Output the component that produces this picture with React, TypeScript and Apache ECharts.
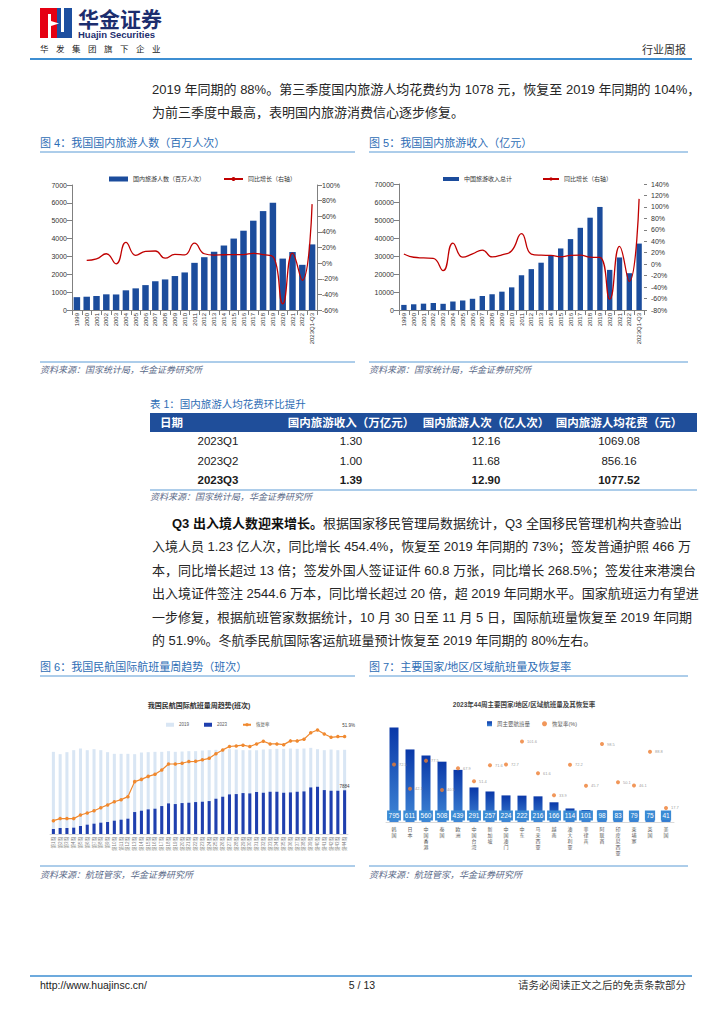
import React, { useEffect, useRef } from 'react';
import * as echarts from 'echarts';

const FONT = "'Liberation Sans', 'Noto Sans CJK SC', 'Noto Sans', sans-serif";

// ---------- Figure 4 / 5 data ----------
const tourismYears = ['1999', '2000', '2001', '2002', '2003', '2004', '2005', '2006', '2007', '2008', '2009', '2010', '2011', '2012', '2013', '2014', '2015', '2016', '2017', '2018', '2019', '2020', '2021', '2022', '2023Q1-Q3'];
const tourismTrips = [719, 744, 784, 878, 870, 1102, 1212, 1394, 1610, 1712, 1902, 2103, 2641, 2957, 3262, 3611, 4000, 4440, 5001, 5539, 6006, 2879, 3246, 2530, 3674];
const tripsGrowth: (number | string)[] = ['-', 3.5, 5.4, 12.0, -0.9, 26.6, 10.0, 15.0, 15.5, 6.3, 11.1, 10.6, 25.6, 12.0, 10.3, 10.7, 10.8, 11.0, 12.6, 10.8, 8.4, -52.1, 12.8, -22.1, 75.5];
const tourismRevenue = [2832, 3176, 3522, 3878, 3442, 4711, 5286, 6230, 7771, 8749, 10184, 12580, 19305, 22706, 26276, 30312, 34195, 39390, 45661, 51278, 57251, 22286, 29191, 20444, 36900];
const revenueGrowth = [17.8, 12.1, 10.9, 10.1, -11.2, 36.9, 12.2, 17.9, 24.7, 12.6, 16.4, 23.5, 53.5, 17.6, 15.7, 15.4, 12.8, 15.2, 15.9, 12.3, 11.7, -61.1, 31.0, -30.0, 114.0];

// ---------- Figure 6 data ----------
const weekLabels = ['第1周', '第2周', '第3周', '第4周', '第5周', '第6周', '第7周', '第8周', '第9周', '第10周', '第11周', '第12周', '第13周', '第14周', '第15周', '第16周', '第17周', '第18周', '第19周', '第20周', '第21周', '第22周', '第23周', '第24周', '第25周', '第26周', '第27周', '第28周', '第29周', '第30周', '第31周', '第32周', '第33周', '第34周', '第35周', '第36周', '第37周', '第38周', '第39周', '第40周', '第41周', '第42周', '第43周', '第44周'];
const flights2019 = [14820, 14400, 14760, 15120, 15420, 15120, 15300, 15120, 14760, 14460, 14460, 14460, 14400, 14700, 14760, 14820, 14820, 14940, 14820, 14880, 14940, 14940, 15060, 15120, 15180, 15240, 15300, 15240, 15120, 15120, 15120, 15240, 15300, 15360, 15360, 15420, 15360, 15420, 15540, 15300, 15120, 15240, 15120, 15190];
const flights2023 = [900, 1080, 1080, 1140, 1440, 1680, 1860, 2040, 2160, 2400, 2580, 2760, 3960, 4200, 4440, 4560, 5040, 5520, 5400, 5580, 5640, 5760, 5820, 5940, 6360, 6720, 7140, 7200, 7380, 7320, 7560, 7440, 7620, 7620, 7440, 7500, 7620, 7680, 8400, 8520, 7920, 7800, 7800, 7884];
const recoveryRate = [7.1, 8.2, 8.2, 8.2, 10.1, 11.2, 12.4, 14.0, 15.5, 17.2, 18.3, 19.9, 27.9, 29.1, 30.7, 31.8, 34.1, 37.3, 37.3, 37.7, 38.6, 38.7, 39.5, 40.3, 42.8, 44.8, 46.6, 46.9, 47.3, 46.6, 48.0, 49.4, 48.0, 48.0, 47.6, 49.6, 49.6, 50.5, 53.9, 55.4, 53.3, 51.5, 51.9, 51.9];

// ---------- Figure 7 data ----------
const regionNames = ['韩国', '日本', '中国香港', '泰国', '欧洲', '中国台湾', '新加坡', '中国澳门', '中东', '马来西亚', '越南', '澳大利亚', '菲律宾', '阿联酋', '印度尼西亚', '柬埔寨', '英国', '美国'];
const regionFlights = [795, 611, 560, 508, 439, 291, 257, 224, 222, 216, 166, 114, 101, 98, 83, 79, 75, 41];
const regionRecovery = [72.5, 42.1, 77.5, 40.5, 67.9, 51.4, 71.6, 72.7, 101.6, 61.6, 33.9, 72.2, 45.7, 98.5, 50.1, 46.1, 88.8, 17.7];

// ---------- Table 1 ----------
const tableHeader = ['日期', '国内旅游收入（万亿元）', '国内旅游人次（亿人次）', '国内旅游人均花费（元）'];
const tableRows = [
  ['2023Q1', '1.30', '12.16', '1069.08'],
  ['2023Q2', '1.00', '11.68', '856.16'],
  ['2023Q3', '1.39', '12.90', '1077.52'],
];

// ---------- Body text ----------
const para1 = [
  '2019 年同期的 88%。第三季度国内旅游人均花费约为 1078 元，恢复至 2019 年同期的 104%，',
  '为前三季度中最高，表明国内旅游消费信心逐步修复。',
];
const para2 = [
  '{b|Q3 出入境人数迎来增长。}根据国家移民管理局数据统计，Q3 全国移民管理机构共查验出',
  '入境人员 1.23 亿人次，同比增长 454.4%，恢复至 2019 年同期的 73%；签发普通护照 466 万',
  '本，同比增长超过 13 倍；签发外国人签证证件 60.8 万张，同比增长 268.5%；签发往来港澳台',
  '出入境证件签注 2544.6 万本，同比增长超过 20 倍，超 2019 年同期水平。国家航班运力有望进',
  '一步修复，根据航班管家数据统计，10 月 30 日至 11 月 5 日，国际航班量恢复至 2019 年同期',
  '的 51.9%。冬航季民航国际客运航班量预计恢复至 2019 年同期的 80%左右。',
];

const BLUE_TITLE = '#2d6db5';
const RULE = '#5b9bd5';
const SRC = '#5a6a88';
const BODY = '#262626';

type TOpts = { size?: number; color?: string; weight?: string; fstyle?: string; align?: string; rich?: any };
function txt(x: number, y: number, text: string, o: TOpts = {}) {
  return {
    type: 'text',
    silent: true,
    style: {
      x, y, text,
      fontSize: o.size ?? 13,
      fontFamily: FONT,
      fill: o.color ?? BODY,
      fontWeight: o.weight ?? 'normal',
      fontStyle: o.fstyle ?? 'normal',
      align: o.align ?? 'left',
      textAlign: o.align ?? 'left',
      verticalAlign: 'middle',
      textVerticalAlign: 'middle',
      rich: o.rich,
    },
  };
}
function hline(x1: number, x2: number, y: number, color: string, w: number) {
  return { type: 'line', silent: true, shape: { x1, y1: y, x2, y2: y }, style: { stroke: color, lineWidth: w } };
}
function rect(x: number, y: number, width: number, height: number, fill: string) {
  return { type: 'rect', silent: true, shape: { x, y, width, height }, style: { fill } };
}

function buildGraphics() {
  const g: any[] = [];
  // logo
  g.push(rect(40, 8, 17, 30, '#e50012'));
  g.push(rect(57, 8, 15, 30, '#1d4fa0'));
  g.push(rect(48, 14, 3, 24, '#ffffff'));
  g.push(rect(61, 8, 3, 24, '#ffffff'));
  g.push({ type: 'polygon', silent: true, shape: { points: [[51, 21], [59, 23.5], [51, 26]] }, style: { fill: '#ffffff' } });
  g.push(txt(78, 19, '华金证券', { size: 21, weight: 'bold', color: '#1c2d6e' }));
  g.push(txt(78, 34, 'Huajin Securities', { size: 9.5, weight: 'bold', color: '#1c2d6e' }));
  '华发集团旗下企业'.split('').forEach((c, i) => g.push(txt(40 + i * 16, 49, c, { size: 8.5, color: '#222' })));
  g.push(txt(686, 50, '行业周报', { size: 11, color: '#333', align: 'right' }));
  g.push(hline(30, 692, 59, '#3d8ed2', 2));

  // paragraph 1
  para1.forEach((l, i) => g.push(txt(152, 89 + i * 23, l)));

  // figure titles row 1
  g.push(txt(40, 143, '图 4：我国国内旅游人数（百万人次）', { size: 11, color: BLUE_TITLE }));
  g.push(txt(369, 143, '图 5：我国国内旅游收入（亿元）', { size: 11, color: BLUE_TITLE }));
  g.push(hline(40, 355, 152, RULE, 1));
  g.push(hline(369, 688, 152, RULE, 1));
  g.push(hline(40, 355, 362, RULE, 1));
  g.push(hline(369, 688, 362, RULE, 1));
  g.push(txt(40, 370, '资料来源：国家统计局，华金证券研究所', { size: 9, color: SRC, fstyle: 'italic' }));
  g.push(txt(369, 370, '资料来源：国家统计局，华金证券研究所', { size: 9, color: SRC, fstyle: 'italic' }));

  // table
  g.push(txt(150, 404, '表 1：国内旅游人均花费环比提升', { size: 10.5, color: BLUE_TITLE }));
  g.push(rect(150, 413, 547, 19, '#1f4e9a'));
  const colX = [218, 351, 486, 619];
  g.push(txt(160, 422.5, tableHeader[0], { size: 11.5, weight: 'bold', color: '#fff' }));
  for (let c = 1; c < 4; c++) g.push(txt(colX[c], 422.5, tableHeader[c], { size: 11.5, weight: 'bold', color: '#fff', align: 'center' }));
  tableRows.forEach((row, r) => {
    row.forEach((cell, c) => {
      g.push(txt(colX[c], 441 + r * 19.5, cell, { size: 11.5, align: 'center', weight: r === 2 ? 'bold' : 'normal', color: '#1a1a1a' }));
    });
  });
  g.push(hline(150, 697, 490, RULE, 1));
  g.push(txt(150, 497, '资料来源：国家统计局，华金证券研究所', { size: 9, color: SRC, fstyle: 'italic' }));

  // paragraph 2
  para2.forEach((l, i) =>
    g.push(txt(i === 0 ? 172 : 152, 523 + i * 23.5, l, {
      rich: { b: { fontWeight: 'bold', fontSize: 13, fontFamily: FONT, fill: '#111' } },
    }))
  );

  // figure titles row 2
  g.push(txt(40, 667, '图 6：我国民航国际航班量周趋势（班次）', { size: 11, color: BLUE_TITLE }));
  g.push(txt(369, 667, '图 7：主要国家/地区/区域航班量及恢复率', { size: 11, color: BLUE_TITLE }));
  g.push(hline(40, 355, 676, RULE, 1));
  g.push(hline(369, 688, 676, RULE, 1));
  g.push(txt(199, 705, '我国民航国际航班量周趋势(班次)', { size: 7, weight: 'bold', color: '#333', align: 'center' }));
  g.push(txt(524, 704, '2023年44周主要国家/地区/区域航班量及其恢复率', { size: 6.5, weight: 'bold', color: '#444', align: 'center' }));
  g.push(hline(40, 355, 866, RULE, 1));
  g.push(hline(369, 688, 866, RULE, 1));
  g.push(txt(40, 875, '资料来源：航班管家，华金证券研究所', { size: 9, color: SRC, fstyle: 'italic' }));
  g.push(txt(369, 875, '资料来源：航班管家，华金证券研究所', { size: 9, color: SRC, fstyle: 'italic' }));

  // footer
  g.push(hline(30, 692, 976, '#3d8ed2', 1.5));
  g.push(txt(40, 985, 'http://www.huajinsc.cn/', { size: 10.5, color: '#222' }));
  g.push(txt(362, 985, '5 / 13', { size: 10.5, color: '#222', align: 'center' }));
  g.push(txt(686, 985, '请务必阅读正文之后的免责条款部分', { size: 10.5, color: '#333', align: 'right' }));
  return g;
}

function buildOption() {
  const axisGray = '#808080';
  const lastIdx6 = flights2023.length - 1;
  const plain = (v: number) => String(v);
  return {
    animation: false,
    backgroundColor: '#ffffff',
    textStyle: { fontFamily: FONT },
    grid: [
      { left: 72, top: 185, width: 245, height: 125, containLabel: false, outerBoundsMode: 'none' },
      { left: 399, top: 184, width: 245, height: 126, containLabel: false, outerBoundsMode: 'none' },
      { left: 50, top: 727, width: 298, height: 107, containLabel: false, outerBoundsMode: 'none' },
      { left: 386, top: 727, width: 288, height: 95, containLabel: false, outerBoundsMode: 'none' },
    ],
    legend: [
      {
        left: 104, top: 171, itemWidth: 19, itemHeight: 5, itemGap: 18, selectedMode: false,
        textStyle: { fontSize: 6, color: '#333', fontFamily: FONT },
        data: [{ name: '国内旅游人数（百万人次）', icon: 'rect' }, { name: '同比增长（右轴）' }],
      },
      {
        left: 438, top: 171, itemWidth: 16, itemHeight: 4, itemGap: 30, selectedMode: false,
        textStyle: { fontSize: 6, color: '#333', fontFamily: FONT },
        formatter: (n: string) => n.replace('_5', ''),
        data: [{ name: '中国旅游收入总计', icon: 'rect' }, { name: '同比增长（右轴）_5' }],
      },
      {
        left: 161, top: 717.5, itemWidth: 8, itemHeight: 4, itemGap: 15, selectedMode: false,
        textStyle: { fontSize: 4.5, color: '#595959', fontFamily: FONT },
        data: [{ name: '2019', icon: 'rect' }, { name: '2023', icon: 'rect' }, { name: '恢复率' }],
      },
      {
        left: 482, top: 716, itemWidth: 5, itemHeight: 5, itemGap: 12, selectedMode: false,
        textStyle: { fontSize: 5.5, color: '#595959', fontFamily: FONT },
        data: [{ name: '周主要航班量', icon: 'rect' }, { name: '恢复率(%)', icon: 'circle' }],
      },
    ],
    xAxis: [
      {
        gridIndex: 0, type: 'category', data: tourismYears,
        axisLine: { lineStyle: { color: axisGray } }, axisTick: { show: true, lineStyle: { color: axisGray } },
        axisLabel: { rotate: 90, interval: 0, fontSize: 6, color: '#333', margin: 3 },
      },
      {
        gridIndex: 1, type: 'category', data: tourismYears,
        axisLine: { lineStyle: { color: axisGray } }, axisTick: { show: true, lineStyle: { color: axisGray } },
        axisLabel: { rotate: 90, interval: 0, fontSize: 6, color: '#333', margin: 3 },
      },
      {
        gridIndex: 2, type: 'category', data: weekLabels,
        axisLine: { lineStyle: { color: '#d9d9d9' } }, axisTick: { show: false },
        axisLabel: { rotate: 90, interval: 0, fontSize: 4.5, color: '#7f7f7f', margin: 3 },
      },
      {
        gridIndex: 3, type: 'category', data: regionNames,
        axisLine: { lineStyle: { color: '#d9d9d9' } }, axisTick: { show: false },
        axisLabel: {
          interval: 0, fontSize: 5, lineHeight: 6, color: '#595959', margin: 4, verticalAlign: 'top',
          formatter: (v: string) => v.split('').join('\n'),
        },
      },
    ],
    yAxis: [
      {
        gridIndex: 0, type: 'value', min: 0, max: 7000, interval: 1000,
        axisLine: { show: true, lineStyle: { color: axisGray } }, axisTick: { show: true, lineStyle: { color: axisGray } },
        splitLine: { show: false }, axisLabel: { fontSize: 7, color: '#333', margin: 5, formatter: plain },
      },
      {
        gridIndex: 0, type: 'value', position: 'right', min: -60, max: 100, interval: 20,
        axisLine: { show: true, lineStyle: { color: axisGray } }, axisTick: { show: true, lineStyle: { color: axisGray } },
        splitLine: { show: false }, axisLabel: { fontSize: 7, color: '#333', margin: 5, formatter: '{value}%' },
      },
      {
        gridIndex: 1, type: 'value', min: 0, max: 70000, interval: 10000,
        axisLine: { show: true, lineStyle: { color: axisGray } }, axisTick: { show: true, lineStyle: { color: axisGray } },
        splitLine: { show: false }, axisLabel: { fontSize: 7, color: '#333', margin: 5, formatter: plain },
      },
      {
        gridIndex: 1, type: 'value', position: 'right', min: -80, max: 140, interval: 20,
        axisLine: { show: false }, axisTick: { show: true, length: 3, lineStyle: { color: axisGray } },
        splitLine: { show: false }, axisLabel: { fontSize: 7, color: '#333', margin: 7, formatter: '{value}%' },
      },
      { gridIndex: 2, type: 'value', min: 0, max: 19300, show: false, splitLine: { show: false } },
      { gridIndex: 2, type: 'value', min: 0, max: 57, show: false, splitLine: { show: false } },
      { gridIndex: 3, type: 'value', min: 0, max: 800, show: false, splitLine: { show: false } },
      { gridIndex: 3, type: 'value', min: 0, max: 120, show: false, splitLine: { show: false } },
    ],
    series: [
      {
        type: 'bar', name: '国内旅游人数（百万人次）', xAxisIndex: 0, yAxisIndex: 0,
        data: tourismTrips, barWidth: '66%', itemStyle: { color: '#1b4c9c' },
      },
      {
        type: 'line', name: '同比增长（右轴）', xAxisIndex: 0, yAxisIndex: 1, data: tripsGrowth,
        smooth: true, symbol: 'none', lineStyle: { color: '#c00000', width: 1.3 }, itemStyle: { color: '#c00000' },
      },
      {
        type: 'bar', name: '中国旅游收入总计', xAxisIndex: 1, yAxisIndex: 2,
        data: tourismRevenue, barWidth: '55%', itemStyle: { color: '#1b4c9c' },
      },
      {
        type: 'line', name: '同比增长（右轴）_5', xAxisIndex: 1, yAxisIndex: 3, data: revenueGrowth,
        smooth: true, symbol: 'none', lineStyle: { color: '#c00000', width: 1.3 }, itemStyle: { color: '#c00000' },
      },
      {
        type: 'bar', name: '2019', xAxisIndex: 2, yAxisIndex: 4, data: flights2019,
        barWidth: '45%', barGap: '-100%', itemStyle: { color: '#d9e6f4' },
      },
      {
        type: 'bar', name: '2023', xAxisIndex: 2, yAxisIndex: 4, barWidth: '45%', barGap: '-100%',
        itemStyle: { color: '#1f3fae' },
        data: flights2023.map((v, i) =>
          i === lastIdx6 ? { value: v, label: { show: true, position: 'top', fontSize: 4.5, color: '#404040', distance: 2 } } : v
        ),
      },
      {
        type: 'line', name: '恢复率', xAxisIndex: 2, yAxisIndex: 5,
        symbol: 'circle', symbolSize: 3.5, lineStyle: { color: '#f0892f', width: 1.2 }, itemStyle: { color: '#f0892f' },
        data: recoveryRate.map((v, i) =>
          i === lastIdx6 ? { value: v, label: { show: true, position: 'top', offset: [4, -2], fontSize: 4.5, color: '#404040', formatter: '{c}%' } } : v
        ),
      },
      {
        type: 'bar', name: '周主要航班量', xAxisIndex: 3, yAxisIndex: 6, data: regionFlights, barWidth: 9,
        itemStyle: {
          color: new echarts.graphic.LinearGradient(0, 0, 0, 1, [
            { offset: 0, color: '#0a38a8' },
            { offset: 1, color: '#3f86d6' },
          ]),
        },
        label: {
          show: true, position: 'insideBottom', distance: 1.5, color: '#ffffff', fontSize: 6.5,
          backgroundColor: '#3a8ad4', padding: [2, 1.5, 1.5, 1.5],
        },
      },
      {
        type: 'scatter', name: '恢复率(%)', xAxisIndex: 3, yAxisIndex: 7, symbolSize: 4,
        itemStyle: { color: '#ee7d31' },
        data: regionRecovery.map((v, i) => [regionNames[i], v]),
        label: {
          show: true, position: 'right', distance: 3, fontSize: 4, color: '#7f7f7f',
          formatter: (p: any) => Number(p.value[1]).toFixed(1),
        },
      },
    ],
    graphic: buildGraphics(),
  };
}

export default function App() {
  const ref = useRef<HTMLDivElement>(null);
  useEffect(() => {
    if (!ref.current) return;
    const chart = echarts.init(ref.current, undefined, { renderer: 'svg' });
    chart.setOption(buildOption() as any);
    return () => chart.dispose();
  }, []);
  return (
    <div
      ref={ref}
      style={{ position: 'absolute', left: 0, top: 0, width: 724, height: 1024, background: '#fff' }}
    />
  );
}
